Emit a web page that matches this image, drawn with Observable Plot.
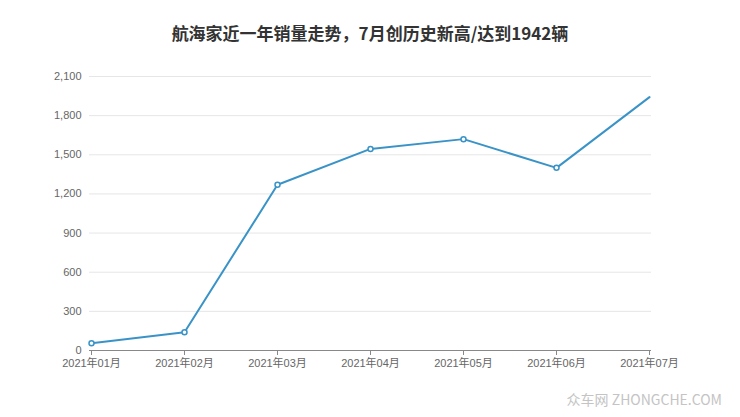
<!DOCTYPE html>
<html>
<head>
<meta charset="utf-8">
<script src="https://cdn.jsdelivr.net/npm/d3@7"></script>
<script src="https://cdn.jsdelivr.net/npm/@observablehq/plot@0.6"></script>
<style>
  html, body { margin: 0; padding: 0; background: #fff; }
  #wrap { position: relative; width: 740px; height: 417px; overflow: hidden; }
  #title { position: absolute; left: 0; top: 20px; width: 740px; text-align: center;
    font-family: "Noto Sans CJK SC", sans-serif; font-weight: bold; font-size: 17px; color: #333; }
  #mark { position: absolute; right: 18px; top: 389px; font-family: "Noto Sans CJK SC", sans-serif;
    font-size: 14px; color: #c4c4c4; }
  #chart { position: absolute; left: 0; top: 0; }
</style>
</head>
<body>
<div id="wrap">
  <div id="chart"></div>
  <div id="title">航海家近一年销量走势，7月创历史新高/达到1942辆</div>
  <div id="mark">众车网 ZHONGCHE.COM</div>
</div>
<script>
const months = ["2021年01月","2021年02月","2021年03月","2021年04月","2021年05月","2021年06月","2021年07月"];
const sales = [55, 140, 1270, 1545, 1620, 1400, 1942];
const yTicks = [0, 300, 600, 900, 1200, 1500, 1800, 2100];

const data = months.map((m, i) => ({month: m, value: sales[i], idx: i}));
const color = "#3a93c7";

const chart = Plot.plot({
  width: 740,
  height: 417,
  marginLeft: 89,
  marginRight: 89,
  marginTop: 76,
  marginBottom: 67,
  style: {fontFamily: "'Liberation Sans', 'Noto Sans CJK SC', sans-serif", fontSize: "11px", color: "#666", background: "transparent"},
  x: {type: "point", domain: months, padding: 0, label: null},
  y: {domain: [0, 2100], ticks: yTicks, label: null, tickFormat: d3.format(",")},
  marks: [
    Plot.gridY(yTicks, {stroke: "#e6e6e6", strokeOpacity: 1}),
    Plot.axisY({ticks: yTicks, tickSize: 0, tickPadding: 8, fill: "#666", tickFormat: d3.format(","), label: null}),
    Plot.axisX({tickSize: 5, tickPadding: 4, stroke: "#888", fill: "#666", label: null}),
    Plot.ruleY([0], {stroke: "#888"}),
    Plot.line(data, {x: "month", y: "value", stroke: color, strokeWidth: 2}),
    Plot.dot(data.filter(d => d.idx < months.length - 1), {x: "month", y: "value", r: 2.5, stroke: color, strokeWidth: 1.5, fill: "white"})
  ]
});
document.getElementById("chart").appendChild(chart);
</script>
</body>
</html>
